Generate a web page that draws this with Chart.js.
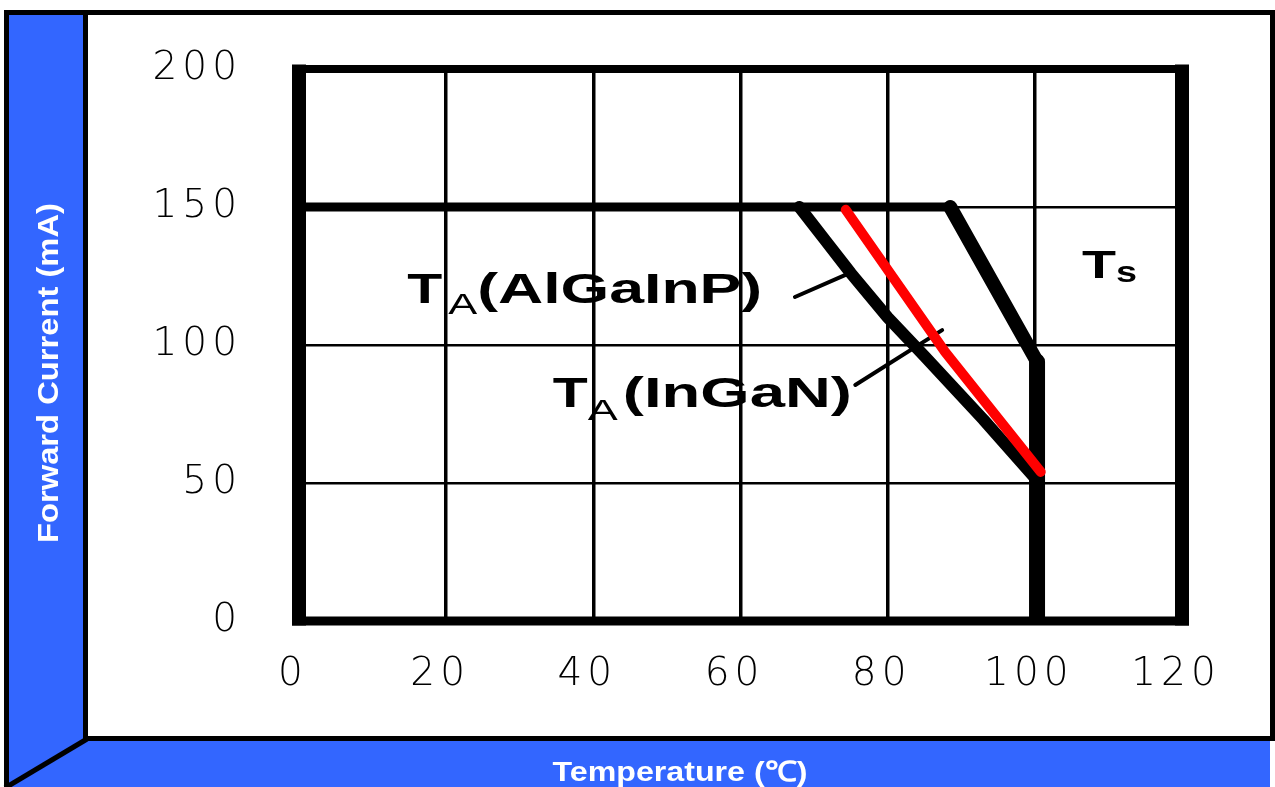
<!DOCTYPE html>
<html>
<head>
<meta charset="utf-8">
<script src="https://cdn.jsdelivr.net/npm/chart.js@4.4.1/dist/chart.umd.min.js"></script>
<style>
  html, body { margin: 0; padding: 0; background: #fff; overflow: hidden; }
  canvas { display: block; }
</style>
</head>
<body>
<canvas id="derating" width="1275" height="787"></canvas>
<script>
// axis ticks
const tempTicks = [0, 20, 40, 60, 80, 100, 120];
const currentTicks = [0, 50, 100, 150, 200];

// Ts limit (package / solder temperature)
const tsTemp = [0, 88.5, 100.3, 100.3];
const tsCurrent = [150, 150, 94, 0];

// TA limit, AlGaInP chips
const alTemp = [68, 71.5, 75, 80, 85, 93, 100.3];
const alCurrent = [150, 138, 126, 110, 96, 73, 51];

// TA limit, InGaN chips
const inTemp = [74.3, 87.8, 100.8];
const inCurrent = [149, 97.5, 54];

// leader lines from the labels to the curves
const alLeaderTemp = [67.4, 74.5];
const alLeaderCurrent = [117.4, 125.7];
const inLeaderTemp = [75.6, 87.4];
const inLeaderCurrent = [85.5, 105.4];

const BLUE = '#3366ff';

function pts(xs, ys) {
  return xs.map((x, i) => ({ x: x, y: ys[i] }));
}

// text stretched horizontally to a given width
function wideText(c, text, x, y, font, width, align) {
  c.save();
  c.font = font;
  const w = c.measureText(text).width;
  c.translate(x, y);
  c.scale(width / w, 1);
  c.textAlign = align || 'left';
  c.fillText(text, 0, 0);
  c.restore();
}

const panel = {
  id: 'panel',
  beforeDraw(chart) {
    const c = chart.ctx, W = chart.width, H = chart.height;
    c.save();
    c.fillStyle = '#fff';
    c.fillRect(0, 0, W, H);
    c.fillStyle = BLUE;
    c.fillRect(9, 15, 74, H - 15);
    c.fillRect(9, 741, 1261, H - 741);
    c.fillStyle = '#000';
    c.fillRect(4, 10, W - 4, 5);
    c.fillRect(4, 10, 5, H - 10);
    c.fillRect(83, 15, 5, 726);
    c.fillRect(83, 736, W - 83, 5);
    c.fillRect(1270, 10, 5, 731);
    c.strokeStyle = '#000';
    c.lineWidth = 5;
    c.beginPath();
    c.moveTo(87, 739);
    c.lineTo(5, 788);
    c.stroke();

    // axis titles
    c.fillStyle = '#fff';
    c.textBaseline = 'middle';
    c.save();
    c.translate(50, 373);
    c.rotate(-Math.PI / 2);
    wideText(c, 'Forward Current (mA)', 0, 0, 'bold 29px "Liberation Sans", Arial', 340, 'center');
    c.restore();
    c.textBaseline = 'alphabetic';
    wideText(c, 'Temperature (℃)', 680, 781, 'bold 28px "Liberation Sans", Arial', 255, 'center');
    c.restore();
    // wide digits on the tick labels
    c.letterSpacing = '5px';
  },
  beforeDatasetsDraw(chart) {
    const c = chart.ctx, a = chart.chartArea;
    c.letterSpacing = '0px';
    c.save();
    c.fillStyle = '#000';
    c.fillRect(a.left - 7, a.top - 4.5, 14, a.bottom - a.top + 9);
    c.fillRect(a.right - 7, a.top - 4.5, 14, a.bottom - a.top + 9);
    c.fillRect(a.left - 7, a.top - 4, a.right - a.left + 14, 8);
    c.fillRect(a.left - 7, a.bottom - 4.5, a.right - a.left + 14, 9);
    c.restore();
  },
  afterDatasetsDraw(chart) {
    const c = chart.ctx, X = chart.scales.x, Y = chart.scales.y;
    const big = 'bold 43px "Liberation Sans", Arial';
    const sub = '29px "Liberation Sans", Arial';
    c.save();
    c.fillStyle = '#000';
    c.textBaseline = 'alphabetic';

    let x = X.getPixelForValue(14.7), y = Y.getPixelForValue(115.3);
    wideText(c, 'T', x, y, big, 35);
    wideText(c, 'A', x + 41, y + 11, sub, 29);
    wideText(c, '(AlGaInP)', x + 70, y, big, 285);

    x = X.getPixelForValue(34.5); y = Y.getPixelForValue(77.6);
    wideText(c, 'T', x, y, big, 35);
    wideText(c, 'A', x + 35, y + 13, sub, 30);
    wideText(c, '(InGaN)', x + 70, y, big, 229);

    x = X.getPixelForValue(106.4); y = Y.getPixelForValue(124.3);
    wideText(c, 'T', x, y, 'bold 39px "Liberation Sans", Arial', 34);
    wideText(c, 's', x + 34, y + 4, 'bold 30px "Liberation Sans", Arial', 21);
    c.restore();
  }
};

const line = (data, color, width, order) => ({
  data: data,
  borderColor: color,
  borderWidth: width,
  pointRadius: 0,
  fill: false,
  tension: 0,
  clip: 0,
  order: order,
  borderCapStyle: 'round',
  borderJoinStyle: 'round'
});

const tsSet = line(pts(tsTemp, tsCurrent), '#000', 12, 3);
tsSet.segment = {
  borderWidth: s => [9, 14, 16][s.p0DataIndex]
};

const tickFont = { family: '"DejaVu Sans", sans-serif', size: 39, weight: '200' };

new Chart(document.getElementById('derating'), {
  type: 'line',
  data: {
    datasets: [
      line(pts(inTemp, inCurrent), '#ff0000', 10, 0),
      line(pts(alTemp, alCurrent), '#000', 12, 2),
      tsSet,
      line(pts(alLeaderTemp, alLeaderCurrent), '#000', 4, 1),
      line(pts(inLeaderTemp, inLeaderCurrent), '#000', 4, 1)
    ]
  },
  options: {
    responsive: false,
    animation: false,
    devicePixelRatio: 1,
    layout: { padding: { top: 69, right: 93, left: 0, bottom: 0 } },
    plugins: { legend: { display: false }, tooltip: { enabled: false } },
    scales: {
      x: {
        type: 'linear',
        min: 0,
        max: 120,
        afterBuildTicks: s => { s.ticks = tempTicks.map(v => ({ value: v })); },
        afterFit: s => { s.height = 166; },
        grid: { color: '#000', lineWidth: 3.5, drawTicks: false },
        border: { display: false },
        ticks: { color: '#000', font: tickFont, padding: 30, labelOffset: -6, maxRotation: 0, autoSkip: false }
      },
      y: {
        type: 'linear',
        min: 0,
        max: 200,
        afterBuildTicks: s => { s.ticks = currentTicks.map(v => ({ value: v })); },
        afterFit: s => { s.width = 299; },
        // invisible tick marks give the gap between labels and plot
        grid: { color: '#000', lineWidth: 2.5, drawTicks: true, tickLength: 57, tickColor: 'rgba(0,0,0,0)' },
        border: { display: false },
        ticks: { color: '#000', font: tickFont, padding: 0, autoSkip: false }
      }
    }
  },
  plugins: [panel]
});
</script>
</body>
</html>
